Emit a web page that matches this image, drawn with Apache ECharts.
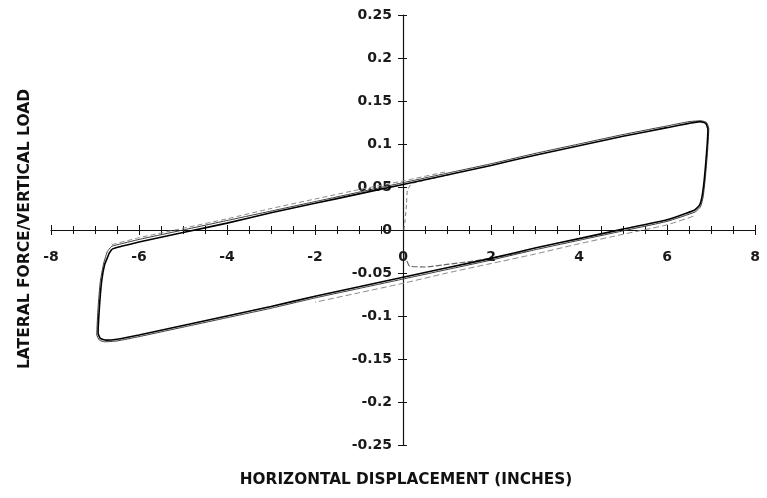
<!DOCTYPE html>
<html>
<head>
<meta charset="utf-8">
<script src="https://cdn.jsdelivr.net/npm/echarts@6/dist/echarts.min.js"></script>
<style>html,body{margin:0;padding:0;background:#fff}#c{width:767px;height:498px}</style>
</head>
<body>
<div id="c"></div>
<script>
// ---- data (x = horizontal displacement in inches, y = lateral force / vertical load) ----
var xTitle = 'HORIZONTAL DISPLACEMENT (INCHES)';
var yTitle = 'LATERAL FORCE/VERTICAL LOAD';
var xRange = [-8, 8];
var yRange = [-0.25, 0.25];

var cycleA = [
  [-6.68,-0.027],[-6.6,-0.022],[-6.4,-0.019],[-6,-0.014],[-5,-0.003],[-4,0.008],[-3,0.020],[-2,0.031],[-1,0.042],
  [0,0.053],[1,0.064],[2,0.075],[3,0.087],[4,0.098],[5,0.109],[6,0.119],[6.5,0.124],[6.75,0.126],[6.88,0.124],
  [6.93,0.117],[6.9,0.09],[6.85,0.06],[6.8,0.040],[6.74,0.029],[6.62,0.023],
  [6,0.012],[5,0.001],[4,-0.010],[3,-0.021],[2,-0.033],[1,-0.044],[0,-0.055],[-1,-0.066],[-2,-0.077],[-3,-0.089],
  [-4,-0.100],[-5,-0.111],[-6,-0.122],[-6.5,-0.127],[-6.75,-0.128],[-6.88,-0.126],[-6.93,-0.120],[-6.9,-0.09],
  [-6.85,-0.06],[-6.78,-0.040],[-6.7,-0.030],[-6.68,-0.027]
];
var cycleB = [
  [-6.72,-0.025],[-6.62,-0.019],[-6.4,-0.016],[-6,-0.011],[-5,0.000],[-4,0.011],[-3,0.022],[-2,0.033],[-1,0.044],
  [0,0.055],[1,0.066],[2,0.077],[3,0.089],[4,0.100],[5,0.111],[6,0.121],[6.5,0.126],[6.78,0.127],[6.9,0.125],
  [6.95,0.118],[6.92,0.09],[6.87,0.06],[6.82,0.038],[6.76,0.027],[6.64,0.021],
  [6,0.010],[5,-0.001],[4,-0.012],[3,-0.023],[2,-0.035],[1,-0.046],[0,-0.057],[-1,-0.068],[-2,-0.079],[-3,-0.091],
  [-4,-0.102],[-5,-0.113],[-6,-0.124],[-6.5,-0.129],[-6.78,-0.130],[-6.9,-0.128],[-6.96,-0.122],[-6.93,-0.09],
  [-6.88,-0.06],[-6.8,-0.038],[-6.72,-0.025]
];
var traceLowerLight = [
  [6.6,0.016],[6,0.006],[5,-0.005],[4,-0.016],[3,-0.028],[2,-0.039],[1,-0.050],[0,-0.062],[-1,-0.073],[-2,-0.084]
];
var traceUpperLight = [
  [-6.62,-0.017],[-6,-0.009],[-5,0.002],[-4,0.013],[-3,0.025],[-2,0.036],[-1,0.047],[0,0.057],[1,0.068]
];
var traceStart = [
  [0.02,0.0],[0.05,0.012],[0.08,0.03],[0.1,0.046],[0.2,0.054],[0.6,0.059],[1.2,0.066]
];
var traceEnd = [
  [0.09,-0.036],[0.15,-0.042],[0.5,-0.043],[1.0,-0.040],[1.6,-0.036],[2.2,-0.031],[2.8,-0.025]
];

function lineSeries(data, color, width, type) {
  return {
    type: 'line', data: data, showSymbol: false, smooth: 0.15,
    xAxisIndex: 0, yAxisIndex: 0, silent: true,
    lineStyle: { color: color, width: width, type: type || 'solid' }
  };
}

var GRID = { left: 51, right: 12, top: 15, bottom: 53 };
var W = 767, H = 498;
var plotW = W - GRID.left - GRID.right, plotH = H - GRID.top - GRID.bottom;
// put the axes through the origin (x = 0 and y = 0 are at the middle of the ranges)
var yAxisShift = -plotW * (0 - xRange[0]) / (xRange[1] - xRange[0]);
var xAxisShift = -plotH * (0 - yRange[0]) / (yRange[1] - yRange[0]);

var chart = echarts.init(document.getElementById('c'));
var labelFont = { fontFamily: 'DejaVu Sans', fontSize: 14, fontWeight: 'bold', color: '#1a1a1a' };
var tickStyle = { color: '#111', width: 1 };

chart.setOption({
  animation: false,
  backgroundColor: '#fff',
  grid: Object.assign({ containLabel: false }, GRID),
  xAxis: [{
    type: 'value', min: xRange[0], max: xRange[1], interval: 2, position: 'bottom', offset: xAxisShift,
    axisLine: { show: true, onZero: false, lineStyle: { color: '#111', width: 1.2 } },
    axisTick: { show: true, length: 5, lineStyle: tickStyle },
    minorTick: { show: true, splitNumber: 4, length: 4, lineStyle: tickStyle },
    splitLine: { show: false },
    axisLabel: Object.assign({ margin: 20, showMinLabel: true, showMaxLabel: true }, labelFont)
  }, {
    type: 'value', min: xRange[0], max: xRange[1], interval: 2, position: 'bottom', offset: xAxisShift,
    axisLine: { show: false, onZero: false },
    axisTick: { show: true, inside: true, length: 5, lineStyle: tickStyle },
    minorTick: { show: true, splitNumber: 4, length: 4, lineStyle: tickStyle },
    splitLine: { show: false }, axisLabel: { show: false }
  }],
  yAxis: [{
    type: 'value', min: yRange[0], max: yRange[1], interval: 0.05, position: 'left', offset: yAxisShift,
    axisLine: { show: true, onZero: false, lineStyle: { color: '#111', width: 1.2 } },
    axisTick: { show: true, length: 5, lineStyle: tickStyle },
    splitLine: { show: false },
    axisLabel: Object.assign({ margin: 11, showMinLabel: true, showMaxLabel: true }, labelFont)
  }, {
    type: 'value', min: yRange[0], max: yRange[1], interval: 0.05, position: 'left', offset: yAxisShift,
    axisLine: { show: false, onZero: false },
    axisTick: { show: true, inside: true, length: 4, lineStyle: tickStyle },
    splitLine: { show: false }, axisLabel: { show: false }
  }],
  graphic: [
    { type: 'text', x: 406, y: 480, style: { text: xTitle, textAlign: 'center', textVerticalAlign: 'middle',
      fontFamily: 'DejaVu Sans', fontSize: 15.3, fontWeight: 'bold', fill: '#111' } },
    { type: 'text', x: 25, y: 229, rotation: Math.PI / 2, style: { text: yTitle, textAlign: 'center', textVerticalAlign: 'middle',
      fontFamily: 'DejaVu Sans', fontSize: 15.5, fontWeight: 'bold', fill: '#111' } }
  ],
  series: [
    lineSeries(traceUpperLight, '#8a8a8a', 1, [5, 3]),
    lineSeries(traceLowerLight, '#8a8a8a', 1, [6, 3]),
    lineSeries(traceStart, '#777', 1, [4, 3]),
    lineSeries(traceEnd, '#666', 1.1, [6, 2]),
    lineSeries(cycleB, '#3a3a3a', 1),
    lineSeries(cycleA, '#000', 1.6)
  ]
});
</script>
</body>
</html>
